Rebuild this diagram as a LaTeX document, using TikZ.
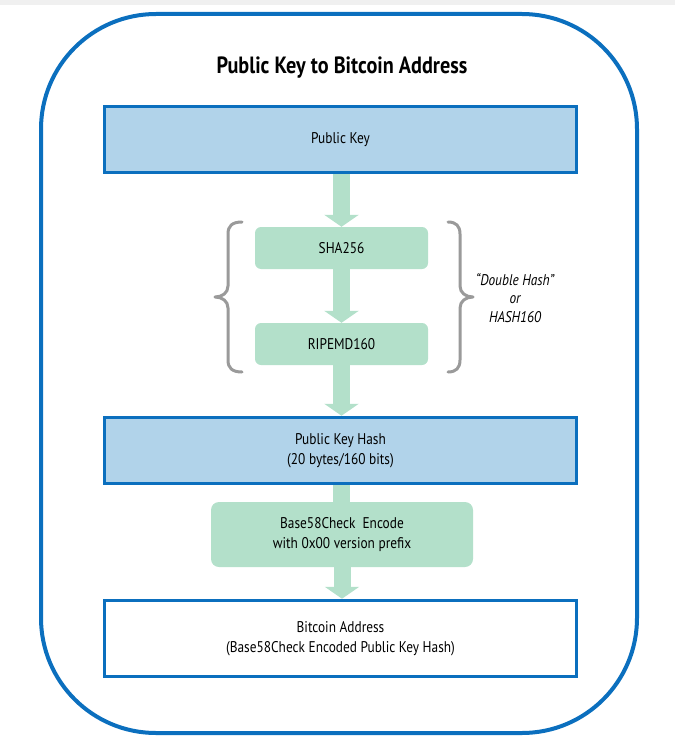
\documentclass[tikz,border=0pt]{standalone}
\usepackage{fontspec}
\setmainfont{PT Sans}[FakeStretch=0.86]
\usetikzlibrary{arrows.meta,calc}
\definecolor{bblue}{HTML}{0B6FBE}
\definecolor{lblue}{HTML}{B1D3EA}
\definecolor{mint}{HTML}{B3E0CA}
\definecolor{bgray}{HTML}{9A9A9A}
\begin{document}
\begin{tikzpicture}[x=1pt,y=-1pt,
  bigbox/.style={draw=bblue,line width=3.5pt,minimum width=472pt,align=center,font=\fontsize{15.5}{20.5}\selectfont,inner sep=0pt},
  hashbox/.style={fill=mint,rounded corners=6pt,align=center,font=\fontsize{15.5}{20.5}\selectfont,inner sep=0pt},
  flow/.style={draw=mint,line width=17pt,-{Triangle[width=34pt,length=12pt]}},
  brace/.style={draw=bgray,line width=3pt,line cap=round,line join=round}]
\useasboundingbox (0,0) rectangle (675,749);
\fill[black!6] (0,0) rectangle (675,5);
\draw[bblue,line width=4pt,rounded corners=115pt] (41,14) rectangle (637,733);
\node (title) at (342,68) {\fontsize{23.5}{26}\selectfont\bfseries Public Key to Bitcoin Address};
\node[bigbox,fill=lblue,minimum height=66pt] (pk) at (340.5,139.5) {Public Key};
\node[hashbox,minimum width=173pt,minimum height=42pt] (sha) at (341.5,248) {SHA256};
\node[hashbox,minimum width=173pt,minimum height=42pt] (rip) at (341.5,344) {RIPEMD160};
\node[bigbox,fill=lblue,minimum height=66pt] (pkh) at (340.5,450.5) {Public Key Hash\\(20 bytes/160 bits)};
\node[bigbox,fill=white,minimum height=76pt] (addr) at (340.5,638.5) {Bitcoin Address\\(Base58Check Encoded Public Key Hash)};
\draw[flow] (pk.south -| sha.north) -- (sha.north);
\draw[flow] (sha.south) -- (rip.north);
\draw[flow] (rip.south) -- (rip.south |- pkh.north);
\draw[mint,line width=17pt] (pkh.south -| rip.south) -- ++(0,20);
\node[hashbox,rounded corners=8pt,minimum width=262pt,minimum height=65pt] (b58) at (342,534.5) {Base58Check\ \ Encode\\with 0x00 version prefix};
\draw[flow] (b58.south) -- (b58.south |- addr.north);
\draw[brace] (242,222) .. controls (232,222) and (228,226) .. (228,234) -- (228,286) .. controls (228,293) and (222,297) .. (215,297) .. controls (222,297) and (228,301) .. (228,308) -- (228,360) .. controls (228,368) and (232,372) .. (242,372);
\draw[brace] (448,222) .. controls (456,222) and (460,226) .. (460,234) -- (460,286) .. controls (460,293) and (466,297) .. (473,297) .. controls (466,297) and (460,301) .. (460,308) -- (460,360) .. controls (460,368) and (456,372) .. (448,372);
\node[align=center,font=\fontsize{15.5}{18.5}\selectfont\itshape] (dh) at (515,298) {“Double Hash”\\or\\HASH160};
\end{tikzpicture}
\end{document}
